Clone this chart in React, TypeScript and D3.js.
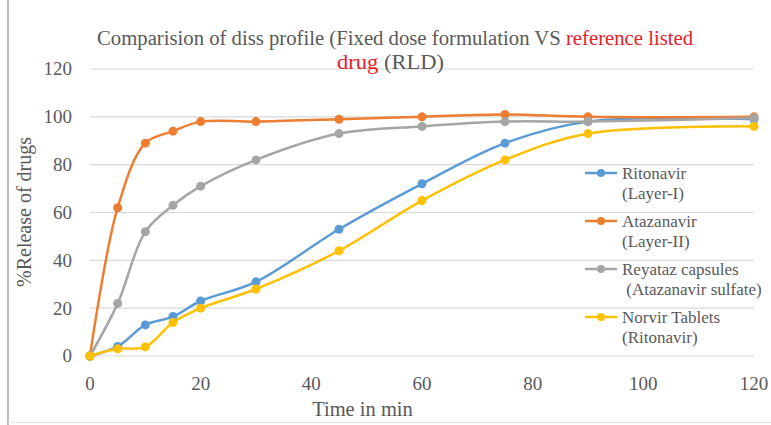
import React from "react";
import * as d3 from "d3";

const times = [0, 5, 10, 15, 20, 30, 45, 60, 75, 90, 120];
const ritonavirLayerI = [0, 4, 13, 16.5, 23, 31, 53, 72, 89, 98, 99];
const atazanavirLayerII = [0, 62, 89, 94, 98, 98, 99, 100, 101, 100, 100];
const reyataz = [0, 22, 52, 63, 71, 82, 93, 96, 98, 98, 99.5];
const norvir = [0, 3, 3.8, 14, 20, 28, 44, 65, 82, 93, 96];

const seriesNames = [
  ["Ritonavir", "(Layer-I)"],
  ["Atazanavir", "(Layer-II)"],
  ["Reyataz capsules", " (Atazanavir sulfate)"],
  ["Norvir Tablets", "(Ritonavir)"],
];
const seriesValues = [ritonavirLayerI, atazanavirLayerII, reyataz, norvir];
const seriesColors = ["#5B9BD5", "#ED7D31", "#A5A5A5", "#FFC000"];
const xTicks = [0, 20, 40, 60, 80, 100, 120];
const yTicks = [0, 20, 40, 60, 80, 100, 120];

const W = 771;
const H = 425;
const FONT = '"Liberation Serif", "Times New Roman", Tinos, "DejaVu Serif", serif';
const TXT = "#595959";

export default function App() {
  const x = d3.scaleLinear().domain([0, 120]).range([90, 754]);
  const y = d3.scaleLinear().domain([0, 120]).range([356, 69]);
  const line = d3
    .line<[number, number]>()
    .x((d) => x(d[0]))
    .y((d) => y(d[1]))
    .curve(d3.curveCatmullRom);

  const drawOrder = [0, 1, 2, 3];
  const ts = { fontFamily: FONT };

  return (
    <svg
      width={W}
      height={H}
      style={{ position: "absolute", left: 0, top: 0, background: "#fff", fontFamily: FONT }}
    >
      <rect x={0} y={0} width={W} height={H} fill="#fff" />
      <line x1={8} x2={8} y1={0} y2={H} stroke="#BFBFBF" strokeWidth={2} />
      <line x1={8} x2={W} y1={422.5} y2={422.5} stroke="#E6E6E6" strokeWidth={1} />
      {yTicks.map((t) => (
        <g key={t}>
          <line x1={x(0)} x2={x(120)} y1={y(t)} y2={y(t)} stroke="#D9D9D9" strokeWidth={1.2} />
          <text x={72} y={y(t)} dy="0.34em" textAnchor="end" fontSize={19} fill={TXT} style={ts}>
            {t}
          </text>
        </g>
      ))}
      {xTicks.map((t) => (
        <text key={t} x={x(t)} y={389.5} textAnchor="middle" fontSize={19} fill={TXT} style={ts}>
          {t}
        </text>
      ))}
      <text x={362.5} y={416} textAnchor="middle" fontSize={20.5} fill={TXT} style={ts}>
        Time in min
      </text>
      <text
        transform={`translate(31,212) rotate(-90)`}
        textAnchor="middle"
        fontSize={20}
        fill={TXT}
        style={ts}
      >
        %Release of drugs
      </text>
      <text
        x={97}
        y={45}
        fontSize={20}
        fill={TXT}
        style={ts}
        textLength={596}
        lengthAdjust="spacingAndGlyphs"
      >
        Comparision of diss profile (Fixed dose formulation VS{" "}
        <tspan fill="#E8202A">reference listed</tspan>
      </text>
      <text
        x={337}
        y={69}
        fontSize={20}
        fill={TXT}
        style={ts}
        textLength={107}
        lengthAdjust="spacingAndGlyphs"
      >
        <tspan fill="#E8202A">drug</tspan> (RLD)
      </text>
      {drawOrder.map((i) => {
        const pts: [number, number][] = times.map((t, k) => [t, seriesValues[i][k]]);
        return (
          <g key={i}>
            <path d={line(pts) || ""} fill="none" stroke={seriesColors[i]} strokeWidth={2.5} />
            {pts.map((p, k) => (
              <circle key={k} cx={x(p[0])} cy={y(p[1])} r={4.5} fill={seriesColors[i]} />
            ))}
          </g>
        );
      })}
      {seriesNames.map((nm, i) => {
        const yy = 173 + i * 48;
        return (
          <g key={i}>
            <line x1={585} x2={617} y1={yy} y2={yy} stroke={seriesColors[i]} strokeWidth={2.5} />
            <circle cx={601} cy={yy} r={4} fill={seriesColors[i]} />
            <text x={622} y={yy} dy="0.35em" fontSize={17} fill={TXT} style={ts}>
              {nm[0]}
            </text>
            <text x={622} y={yy + 20} dy="0.35em" fontSize={17} fill={TXT} style={{ ...ts, whiteSpace: "pre" }}>
              {nm[1]}
            </text>
          </g>
        );
      })}
    </svg>
  );
}
